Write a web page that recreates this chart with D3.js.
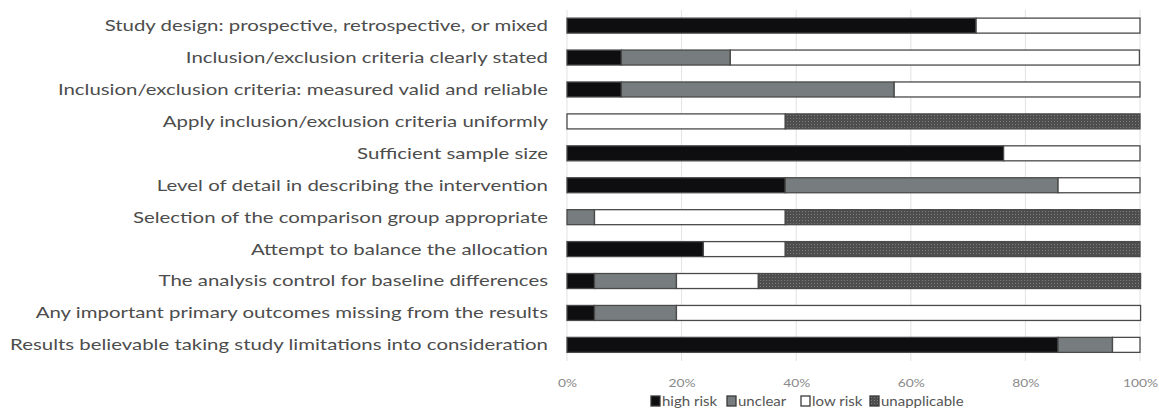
<!DOCTYPE html>
<html><head><meta charset="utf-8">
<script src="https://cdn.jsdelivr.net/npm/d3@7"></script>
<style>body{margin:0;background:#fff}</style>
</head><body>
<svg id="c" width="1159" height="411"></svg>
<script>
const categories = [
 "Study design: prospective, retrospective, or mixed",
 "Inclusion/exclusion criteria clearly stated",
 "Inclusion/exclusion criteria: measured valid and reliable",
 "Apply inclusion/exclusion criteria uniformly",
 "Sufficient sample size",
 "Level of detail in describing the intervention",
 "Selection of the comparison group appropriate",
 "Attempt to balance the allocation",
 "The analysis control for baseline differences",
 "Any important primary outcomes missing from the results",
 "Results believable taking study limitations into consideration"
];
const seriesNames = ["high risk","unclear","low risk","unapplicable"];
const highRisk     = [71.4, 9.5, 9.5, 0, 76.2, 38.1, 0, 23.8, 4.8, 4.8, 85.7];
const unclear      = [0, 19.0, 47.6, 0, 0, 47.6, 4.8, 0, 14.3, 14.3, 9.5];
const lowRisk      = [28.6, 71.4, 42.9, 38.1, 23.8, 14.3, 33.3, 14.3, 14.3, 81.0, 4.8];
const unapplicable = [0, 0, 0, 61.9, 0, 0, 61.9, 61.9, 66.7, 0, 0];
const tickValues = [0, 20, 40, 60, 80, 100];

const svg = d3.select("#c");
const defs = svg.append("defs");
const pat = defs.append("pattern").attr("id","dots").attr("width",3).attr("height",3).attr("patternUnits","userSpaceOnUse");
pat.append("rect").attr("width",3).attr("height",3).attr("fill","#4e4e4e");
pat.append("rect").attr("x",1).attr("y",1).attr("width",1).attr("height",1).attr("fill","#7c7c7c");

const fills = ["#0e0e10", "#777d7e", "#ffffff", "url(#dots)"];
const x = d3.scaleLinear().domain([0,100]).range([567,1140]);
const y = d3.scaleBand().domain(categories).range([9.5, 361]).paddingInner(0.53).paddingOuter(0.27);

// grid
svg.append("g").selectAll("line").data(tickValues).join("line")
  .attr("x1", d=>x(d)).attr("x2", d=>x(d)).attr("y1", 10).attr("y2", 361)
  .attr("stroke", "#e2e2e2").attr("stroke-width", 1);

const rows = categories.map((c,i)=>({c, vals:[highRisk[i],unclear[i],lowRisk[i],unapplicable[i]]}));
const stack = [];
rows.forEach(r=>{ let acc=0; r.vals.forEach((v,k)=>{ if(v>0) stack.push({c:r.c,k,x0:acc,x1:acc+v}); acc+=v; }); });

svg.append("g").selectAll("rect").data(stack).join("rect")
  .attr("x", d=>x(d.x0)).attr("width", d=>x(d.x1)-x(d.x0))
  .attr("y", d=>y(d.c)).attr("height", y.bandwidth())
  .attr("fill", d=>fills[d.k]).attr("stroke", "#4a4a4a").attr("stroke-width", 1.3);

// category labels (horizontally stretched like the reference)
const labels = svg.append("g").selectAll("text").data(categories).join("text")
  .attr("text-anchor","end").attr("font-family","Lato, 'Open Sans', sans-serif")
  .attr("font-size", 15.5).attr("fill","#4d4d4d").attr("dy","0.35em").text(d=>d);
let maxLen = 0;
labels.each(function(){ maxLen = Math.max(maxLen, this.getComputedTextLength()); });
const sx = 538 / maxLen;
labels.attr("transform", d=>`translate(548,${y(d)+y.bandwidth()/2}) scale(${sx},1)`);

// x axis tick labels
const ax = svg.append("g").attr("transform","translate(0,384)")
  .call(d3.axisBottom(x).tickValues(tickValues).tickFormat(d=>d+"%").tickSize(0));
ax.select(".domain").remove();
ax.selectAll("text").attr("dy","0").attr("font-family","Lato, sans-serif").attr("font-size",10.5)
  .attr("fill","#8a8a8a").attr("transform",`scale(${sx},1)`).attr("x", 0);

// legend
const legX = [651, 727, 801, 870];
const leg = svg.append("g").selectAll("g").data(seriesNames).join("g")
  .attr("transform",(d,i)=>`translate(${legX[i]},396)`);
leg.append("rect").attr("width",9).attr("height",10).attr("y",0)
  .attr("fill",(d,i)=>fills[i]).attr("stroke","#3a3a3a").attr("stroke-width",1.3);
leg.append("text").attr("transform",`translate(11,10) scale(1.2,1)`).attr("font-family","Lato, sans-serif")
  .attr("font-size",12.5).attr("fill","#555").text(d=>d);
</script>
</body></html>
